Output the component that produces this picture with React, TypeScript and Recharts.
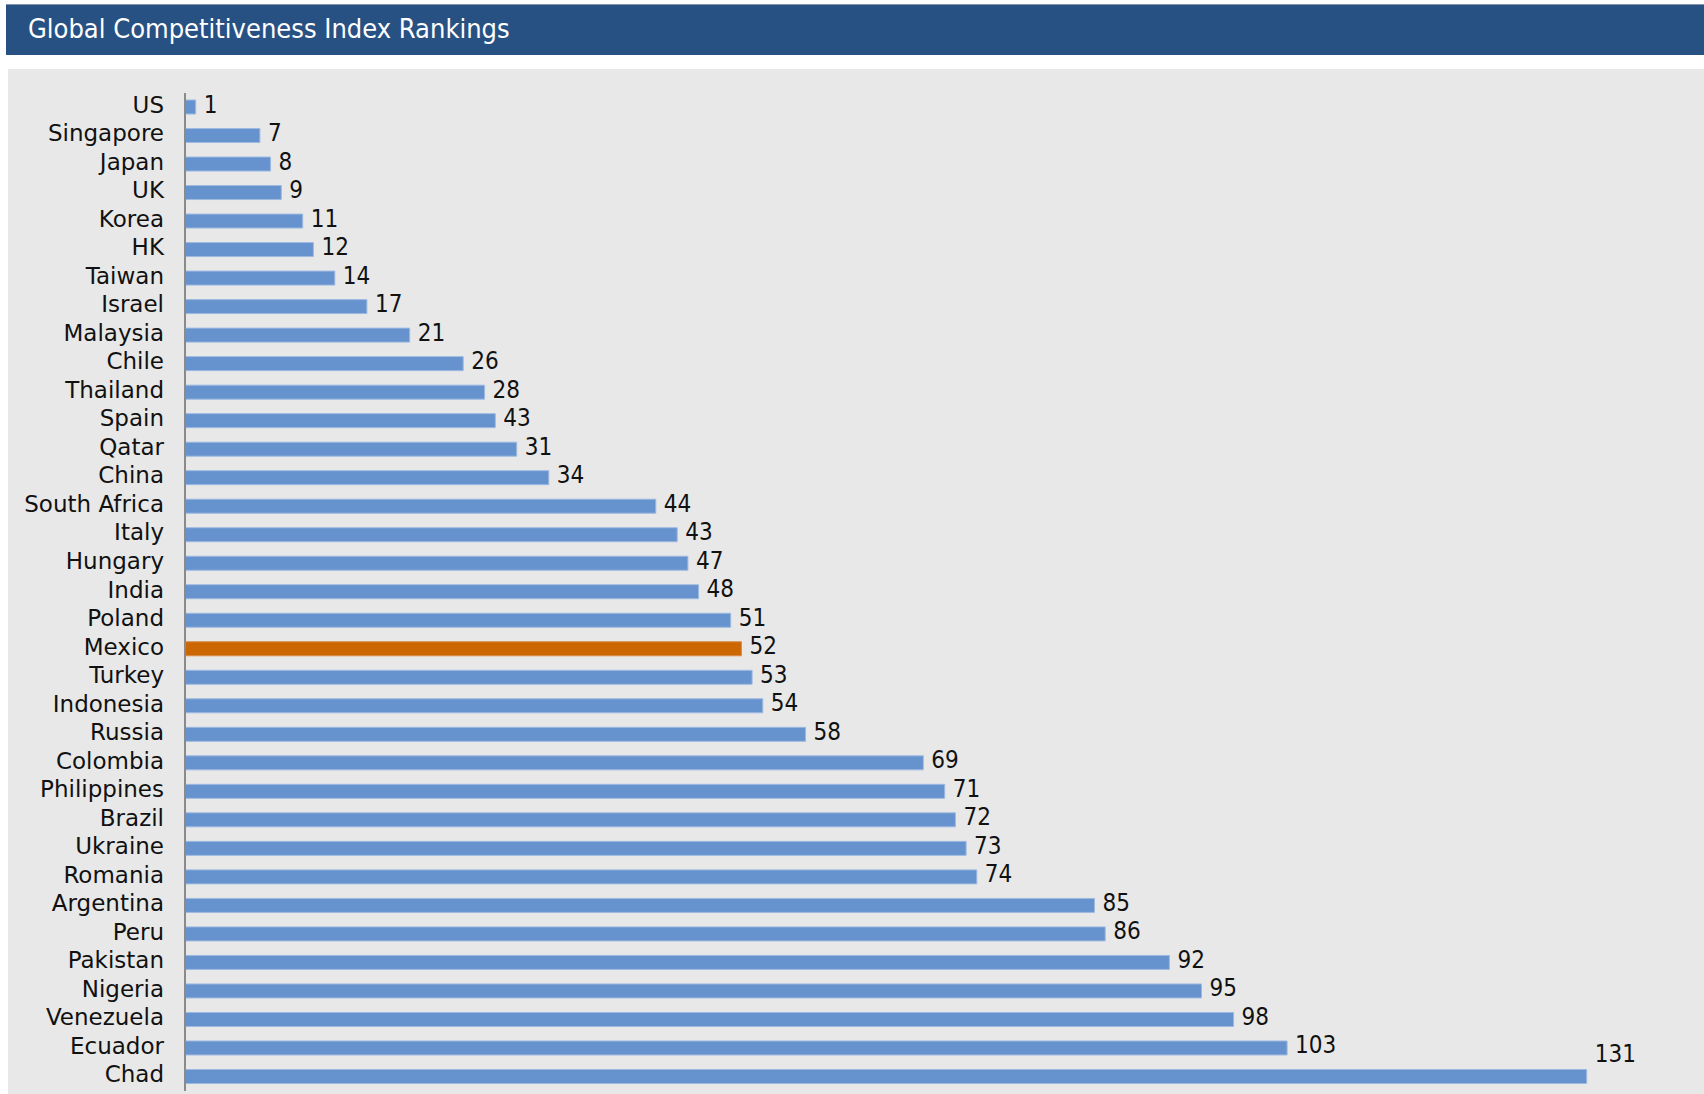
import React from 'react';
import { BarChart, Bar, XAxis, YAxis, Cell, LabelList } from 'recharts';

const countries = [
  'US', 'Singapore', 'Japan', 'UK', 'Korea', 'HK', 'Taiwan', 'Israel', 'Malaysia', 'Chile',
  'Thailand', 'Spain', 'Qatar', 'China', 'South Africa', 'Italy', 'Hungary', 'India', 'Poland', 'Mexico',
  'Turkey', 'Indonesia', 'Russia', 'Colombia', 'Philippines', 'Brazil', 'Ukraine', 'Romania', 'Argentina', 'Peru',
  'Pakistan', 'Nigeria', 'Venezuela', 'Ecuador', 'Chad',
];

// bar lengths as drawn
const rankValues = [
  1, 7, 8, 9, 11, 12, 14, 17, 21, 26,
  28, 29, 31, 34, 44, 46, 47, 48, 51, 52,
  53, 54, 58, 69, 71, 72, 73, 74, 85, 86,
  92, 95, 98, 103, 131,
];

// labels as printed next to the bars
const rankLabels = [
  '1', '7', '8', '9', '11', '12', '14', '17', '21', '26',
  '28', '43', '31', '34', '44', '43', '47', '48', '51', '52',
  '53', '54', '58', '69', '71', '72', '73', '74', '85', '86',
  '92', '95', '98', '103', '131',
];

const highlightCountry = 'Mexico';
const xDomain = [0, 140];

const FONT_C = "'DejaVu Sans Condensed', 'DejaVu Sans', sans-serif";
const FONT = "'DejaVu Sans', sans-serif";
const BLUE = '#6692CD';
const ORANGE = '#CC6600';

const data = countries.map((c, i) => ({ country: c, value: rankValues[i], label: rankLabels[i] }));

const ValueLabel = (props: any) => {
  const { x, y, width, height, index } = props;
  const row = data[index];
  const lift = row.country === 'Chad' ? -20 : 0;
  return (
    <text
      x={x + width + 8}
      y={y + height / 2 + 5.5 + lift}
      fontFamily={FONT_C}
      fontSize={24}
      fill="#111"
    >
      {row.label}
    </text>
  );
};

const CountryTick = (props: any) => {
  const { x, y, payload } = props;
  return (
    <text x={x} y={y + 5.5} textAnchor="end" fontFamily={FONT} fontSize={23} fill="#111">
      {payload.value}
    </text>
  );
};

export default function App() {
  return (
    <div style={{ position: 'absolute', left: 0, top: 0, width: 1704, height: 1094, background: '#fff', overflow: 'hidden' }}>
      <div
        style={{
          position: 'absolute', left: 6, top: 4, width: 1698, height: 51,
          background: '#285183', borderTop: '1px solid #8593aa', boxSizing: 'border-box',
        }}
      />
      <svg style={{ position: 'absolute', left: 0, top: 0 }} width={1704} height={60}>
        <text x={28} y={38} fill="#fff" fontFamily={FONT_C} fontSize={27}>
          Global Competitiveness Index Rankings
        </text>
      </svg>
      <div style={{ position: 'absolute', left: 8, top: 69, width: 1696, height: 1025, background: '#E8E8E8' }} />
      <div style={{ position: 'absolute', left: 0, top: 0 }}>
        <BarChart
          width={1704}
          height={1094}
          layout="vertical"
          data={data}
          margin={{ top: 93, right: 21, bottom: 3, left: 0 }}
        >
          <XAxis type="number" domain={xDomain} hide />
          <YAxis
            type="category"
            dataKey="country"
            width={185}
            tickLine={false}
            tickSize={0}
            tickMargin={21}
            interval={0}
            axisLine={{ stroke: '#8a8a8a', strokeWidth: 2 }}
            tick={<CountryTick />}
          />
          <Bar dataKey="value" barSize={14} isAnimationActive={false}>
            {data.map((d) => (
              <Cell
                key={d.country}
                fill={d.country === highlightCountry ? ORANGE : BLUE}
                stroke={d.country === highlightCountry ? '#d98a4a' : '#9dbae2'}
                strokeWidth={1}
              />
            ))}
            <LabelList dataKey="label" content={ValueLabel} />
          </Bar>
        </BarChart>
      </div>
    </div>
  );
}
